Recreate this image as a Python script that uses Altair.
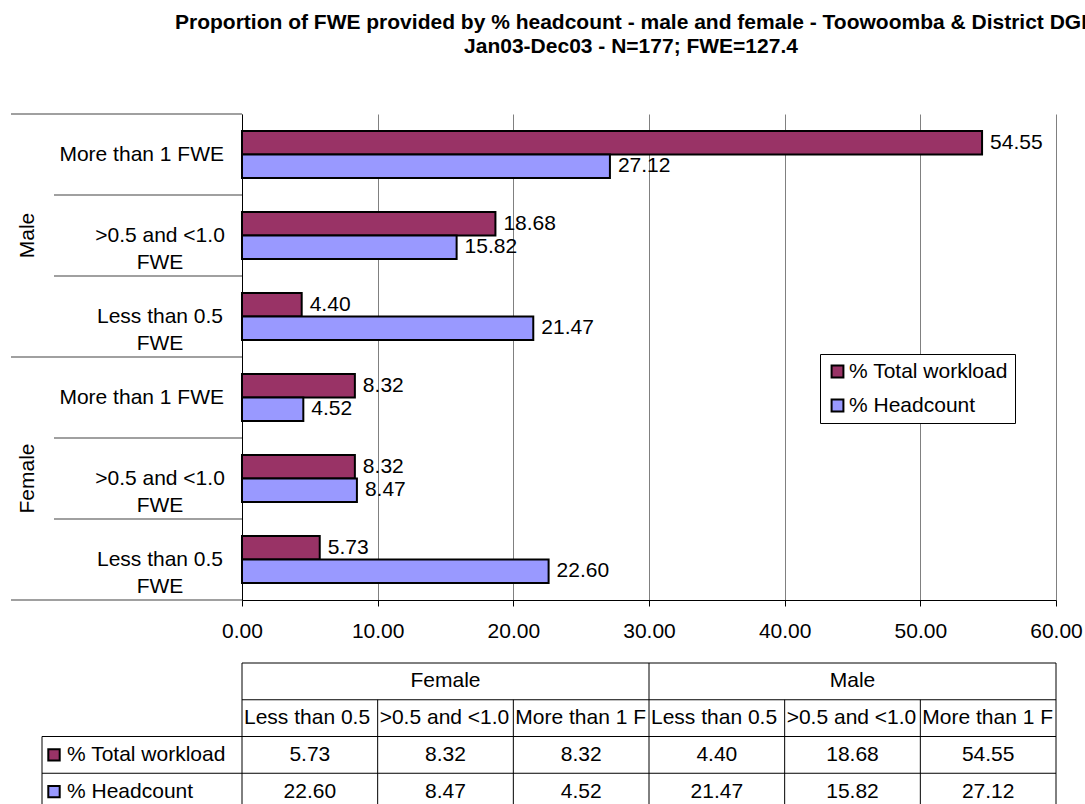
import altair as alt
import pandas as pd

# ---- data -------------------------------------------------------------
gender_names = ["Female", "Male"]
level_names = ["Less than 0.5 FWE", ">0.5 and <1.0 FWE", "More than 1 FWE"]
level_axis_labels = ["Less than 0.5\nFWE", ">0.5 and <1.0\nFWE", "More than 1 FWE"]
series_names = ["% Total workload", "% Headcount"]
series_colors = ["#993366", "#9999FF"]

# values in table order: Female (<0.5, 0.5-1.0, >1), then Male (<0.5, 0.5-1.0, >1)
total_workload = [5.73, 8.32, 8.32, 4.40, 18.68, 54.55]
headcount = [22.60, 8.47, 4.52, 21.47, 15.82, 27.12]

title_lines = [
    "Proportion of FWE provided by % headcount - male and female - Toowoomba & District DGI",
    "Jan03-Dec03 - N=177; FWE=127.4",
]

# ---- layout constants ---------------------------------------------------
W, H = 814, 486          # plot area
FS = 21                  # body font size
TABLE_TOP = H + 63       # data table below the axis
ROW_H = 36.75
row_names = ["gender", "level"] + series_names

# ---- tables built from the arrays ---------------------------------------
cat_rows = []
for gi, g in enumerate(gender_names):
    for li, lv in enumerate(level_names):
        cat_rows.append({
            "key": f"{g}|{lv}",
            "gender": g,
            "level": lv,
            "axis_label": level_axis_labels[li],
            "level_idx": li,
        })
cats = pd.DataFrame(cat_rows)
table_order = list(cats["key"])
bar_order = table_order[::-1]          # bars read top-down: Male first

series_values = {series_names[0]: total_workload, series_names[1]: headcount}
long_rows = []
for i, c in enumerate(cat_rows):
    for s in series_names:
        long_rows.append({"key": c["key"], "series": s, "value": series_values[s][i]})
long = pd.DataFrame(long_rows)

series_df = pd.DataFrame({"row": series_names, "series": series_names})

# ---- main bar chart -----------------------------------------------------
y_scale = alt.Scale(domain=bar_order, paddingInner=0, paddingOuter=0)
y_enc = alt.Y("key:N", sort=bar_order, scale=y_scale,
              axis=alt.Axis(labels=False, ticks=False, title=None, grid=False,
                            domainColor="black", domainWidth=1))
y_start = alt.Y("key:N", sort=bar_order, scale=y_scale, bandPosition=0)

x_enc = alt.X("value:Q",
              scale=alt.Scale(domain=[0, 60], nice=False, zero=True),
              axis=alt.Axis(values=[0, 10, 20, 30, 40, 50, 60], format=".2f",
                            title=None, grid=True, gridColor="#808080", gridWidth=1,
                            domainColor="black", tickColor="black", tickSize=6,
                            labelFontSize=FS, labelColor="black", labelPadding=14,
                            labelFlush=False))

color_scale = alt.Scale(domain=series_names, range=series_colors)

bars = alt.Chart(long).mark_bar(stroke="black", strokeWidth=2).encode(
    x=x_enc,
    y=y_enc,
    yOffset=alt.YOffset("series:N", sort=series_names,
                        scale=alt.Scale(domain=series_names, paddingInner=0, paddingOuter=0.72)),
    color=alt.Color("series:N", scale=color_scale,
                    legend=alt.Legend(title=None, orient="none", legendX=578, legendY=240,
                                      direction="vertical", symbolType="square",
                                      symbolSize=140, symbolStrokeColor="black",
                                      symbolStrokeWidth=2, symbolOpacity=1,
                                      labelFontSize=FS, labelColor="black", labelOffset=1,
                                      labelLimit=400, padding=7, rowPadding=12,
                                      strokeColor="black", fillColor="white")),
)

value_labels = alt.Chart(long).mark_text(
    align="left", baseline="middle", dx=8, fontSize=FS, color="black"
).encode(
    x="value:Q",
    y=alt.Y("key:N", sort=bar_order, scale=y_scale),
    yOffset=alt.YOffset("series:N", sort=series_names),
    text=alt.Text("value:Q", format=".2f"),
)

single_labels = alt.Chart(cats).transform_filter(
    "indexof(datum.axis_label, '\\n') < 0"
).mark_text(align="right", baseline="middle", fontSize=FS, color="black").encode(
    x=alt.value(-18),
    y=alt.Y("key:N", sort=bar_order, scale=y_scale),
    text="axis_label:N",
)

multi_labels = alt.Chart(cats).transform_filter(
    "indexof(datum.axis_label, '\\n') >= 0"
).mark_text(align="center", baseline="middle", fontSize=FS, color="black",
            lineBreak="\n", lineHeight=27).encode(
    x=alt.value(-82),
    y=alt.Y("key:N", sort=bar_order, scale=y_scale),
    text="axis_label:N",
)

gender_labels = alt.Chart(cats).transform_filter(
    alt.datum.level_idx == 1
).mark_text(angle=270, align="center", baseline="middle", fontSize=FS, color="black").encode(
    x=alt.value(-214),
    y=alt.Y("key:N", sort=bar_order, scale=y_scale),
    text="gender:N",
)

sep_style = dict(color="#808080", strokeWidth=1.5)
outer_sep = alt.Chart(cats).transform_filter(alt.datum.level_idx == 2).mark_rule(**sep_style).encode(
    y=y_start, x=alt.value(-231), x2=alt.value(0))
inner_sep = alt.Chart(cats).transform_filter(alt.datum.level_idx != 2).mark_rule(**sep_style).encode(
    y=y_start, x=alt.value(-188), x2=alt.value(0))
bottom_sep = alt.Chart(pd.DataFrame({"k": [0]})).mark_rule(**sep_style).encode(
    y=alt.value(H), x=alt.value(-231), x2=alt.value(0))

main = alt.layer(bars, value_labels, single_labels, multi_labels, gender_labels,
                 outer_sep, inner_sep, bottom_sep)

# ---- data table ---------------------------------------------------------
col_scale = alt.Scale(domain=table_order, paddingInner=0, paddingOuter=0)
row_scale = alt.Scale(domain=row_names, range=[TABLE_TOP, TABLE_TOP + ROW_H * 4],
                      paddingInner=0, paddingOuter=0)
col_enc = alt.X("key:N", sort=table_order, scale=col_scale, axis=None)
col_start = alt.X("key:N", sort=table_order, scale=col_scale, axis=None, bandPosition=0)
row_enc = alt.Y("row:N", sort=row_names, scale=row_scale, axis=None)
row_start = alt.Y("row:N", sort=row_names, scale=row_scale, axis=None, bandPosition=0)
TABLE_BOTTOM = TABLE_TOP + ROW_H * 4

cell_text = alt.Chart(long).transform_calculate(row="datum.series").mark_text(
    align="center", baseline="middle", fontSize=FS, color="black"
).encode(x=col_enc, y=row_enc, text=alt.Text("value:Q", format=".2f"))

gender_head = alt.Chart(cats).transform_filter(alt.datum.level_idx == 1).transform_calculate(
    row="'gender'"
).mark_text(align="center", baseline="middle", fontSize=FS, color="black").encode(
    x=col_enc, y=row_enc, text="gender:N")

level_head = alt.Chart(cats).transform_calculate(row="'level'").mark_text(
    align="left", baseline="middle", fontSize=FS, color="black", dx=2,
    limit=133, ellipsis="\u200b"
).encode(x=col_start, y=row_enc, text="level:N")

row_label_text = alt.Chart(series_df).mark_text(
    align="left", baseline="middle", fontSize=FS, color="black"
).encode(x=alt.value(-175), y=row_enc, text="series:N")

row_swatch = alt.Chart(series_df).mark_square(
    size=130, stroke="black", strokeWidth=2, opacity=1
).encode(x=alt.value(-188), y=row_enc,
         color=alt.Color("series:N", scale=color_scale, legend=None))

line_style = dict(color="black", strokeWidth=1)
h_head = alt.Chart(pd.DataFrame({"row": ["gender", "level"]})).mark_rule(**line_style).encode(
    y=row_start, x=alt.value(0), x2=alt.value(W))
h_body = alt.Chart(pd.DataFrame({"row": series_names})).mark_rule(**line_style).encode(
    y=row_start, x=alt.value(-200), x2=alt.value(W))
v_cols = alt.Chart(cats).transform_calculate(
    row="datum.level_idx == 0 ? 'gender' : 'level'"
).mark_rule(**line_style).encode(x=col_start, y=row_start, y2=alt.value(TABLE_BOTTOM))
v_right = alt.Chart(pd.DataFrame({"row": ["gender"]})).mark_rule(**line_style).encode(
    x=alt.value(W), y=row_start, y2=alt.value(TABLE_BOTTOM))
v_label_box = alt.Chart(pd.DataFrame({"row": [series_names[0]]})).mark_rule(**line_style).encode(
    x=alt.value(-200), y=row_start, y2=alt.value(TABLE_BOTTOM))

table = alt.layer(h_head, h_body, v_cols, v_right, v_label_box,
                  cell_text, gender_head, level_head, row_label_text, row_swatch)

chart = alt.layer(main, table).resolve_scale(x="independent", y="independent").properties(
    width=W,
    height=H,
    autosize=alt.AutoSizeParams(type="none"),
    padding={"left": 242, "top": 114, "right": 29, "bottom": 204},
    title=alt.TitleParams(text=title_lines, fontSize=FS, fontWeight="bold",
                          font="Liberation Sans", anchor="middle", dx=-18,
                          offset=56, lineHeight=24, color="black"),
).configure(font="Liberation Sans").configure_view(stroke=None)

chart.save("out.html", embed_options={"renderer": "svg", "actions": False})
